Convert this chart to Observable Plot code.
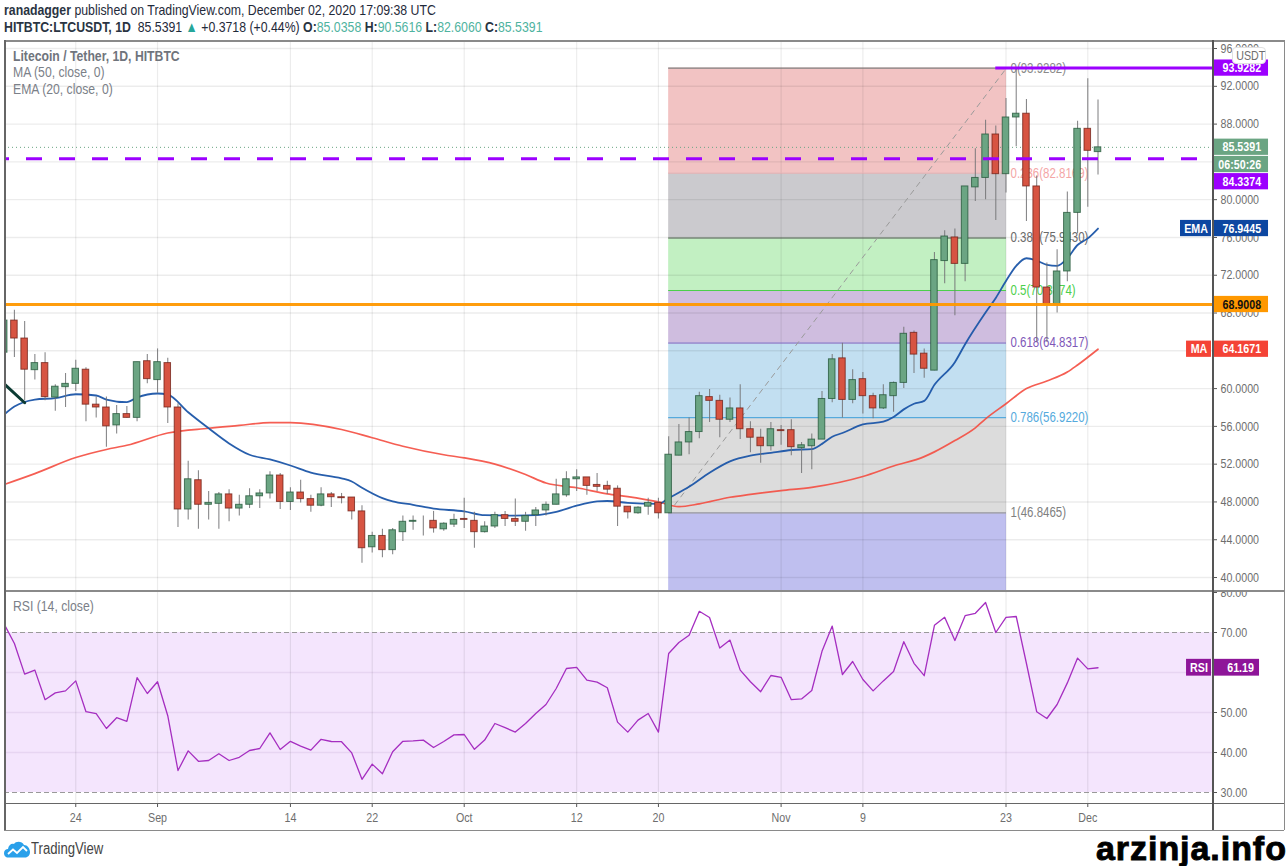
<!DOCTYPE html>
<html><head><meta charset="utf-8">
<script src="https://cdn.jsdelivr.net/npm/d3@7"></script>
<script src="https://cdn.jsdelivr.net/npm/@observablehq/plot@0.6"></script>
<style>
html,body{margin:0;padding:0;background:#fff;width:1288px;height:866px;overflow:hidden;font-family:"Liberation Sans",sans-serif;}
#stage{position:relative;width:1288px;height:866px;overflow:hidden}
#price,#rsi{position:absolute;left:0;}
#price{top:0}#rsi{top:591px}
.t{position:absolute;white-space:nowrap;color:#1f2a3a;font-size:15px;line-height:15px;transform:scaleX(.82);transform-origin:0 0}
.t b{font-weight:700;color:#2a3442}
.teal{color:#4fb3a0}
.leg{color:#7b8088;font-size:14.9px}
.line{position:absolute;background:#8a8a8a}
.pill{position:absolute;left:1232px;top:47px;width:32px;height:15px;background:#fff;border:1px solid #e0e0e0;border-radius:4px;color:#6e6e6e;font-size:13px;line-height:15px;text-align:center}
.pill span{display:inline-block;transform:scaleX(.82)}
.wm{position:absolute;left:1096px;top:832px;color:#000;font-size:34px;line-height:33px;font-weight:700;-webkit-text-stroke:.9px #000;letter-spacing:.95px;white-space:nowrap}
</style></head><body><div id="stage">
<div id="price"></div><div id="rsi"></div>
<div class="line" style="left:4px;top:40px;width:1280px;height:1.5px"></div>
<div class="line" style="left:4px;top:590px;width:1280px;height:2px"></div>
<div class="line" style="left:4px;top:802.5px;width:1280px;height:1.5px;background:#666"></div>
<div class="line" style="left:4px;top:829.5px;width:1280px;height:1.5px"></div>
<div class="line" style="left:4px;top:40px;width:1.5px;height:790px;background:#666"></div>
<div class="line" style="left:1283.5px;top:40px;width:1.5px;height:790px"></div>
<div class="line" style="left:1212px;top:40px;width:1.5px;height:790px;background:#555"></div>
<div class="t" style="left:4px;top:2px"><b>ranadagger</b> published on TradingView.com, December 02, 2020 17:09:38 UTC</div>
<div class="t" style="left:4px;top:19px"><b>HITBTC:LTCUSDT, 1D</b>&nbsp; 85.5391 <span style="color:#26a69a">▲</span> +0.3718 (+0.44%) <b>O:</b><span class="teal">85.0358</span> <b>H:</b><span class="teal">90.5616</span> <b>L:</b><span class="teal">82.6060</span> <b>C:</b><span class="teal">85.5391</span></div>
<div class="t leg" style="left:13px;top:49px"><b style="color:#6f747c">Litecoin / Tether, 1D, HITBTC</b></div>
<div class="t leg" style="left:13px;top:65px">MA (50, close, 0)</div>
<div class="t leg" style="left:13px;top:82px">EMA (20, close, 0)</div>
<div class="t leg" style="left:13px;top:599px">RSI (14, close)</div>
<div class="pill"><span>USDT</span></div>
<svg style="position:absolute;left:4px;top:841px" width="26" height="17" viewBox="0 0 26 17"><path d="M4 16.5C1 16.5 0 14 0 12 0 9.500 2 8 4 8 4.500 4 7.500 2 10 3 12 0 18 0 20 4 23.500 4 26 7.500 26 11 26 14 24 16.500 21 16.500Z" fill="#2aa0ea"/><path d="M4 13 9 8.500 13 12 19 6 23 10" fill="none" stroke="#fff" stroke-width="1.8"/></svg>
<div class="t" style="left:31px;top:841px;color:#444;font-size:16px;line-height:16px">TradingView</div>
<div class="wm">arzinja.info</div>
</div>
<script>
const startDay = Date.UTC(2020, 7, 17);
const day = i => new Date(startDay + i * 864e5);

const opens  = [63.8,67.2,65.3,61.95,62.7,59.05,60.15,60.5,62,58.3,58,56.1,57.3,56.9,62.9,60.9,62.7,58,47.2,50.3,47.7,47.8,48.8,47.3,47.7,48.6,48.9,50.8,48,49,48.3,47.6,48.8,48.5,48.47,47,43.2,44.4,42.9,44.8,45.9,46,46,45.1,45.6,46.2,46,44.8,45.4,46.6,46.2,45.9,46.6,47.1,47.7,48.7,50.4,50.6,49.8,49.7,49.4,47.5,46.8,47.5,47.9,46.8,52.9,54.3,55.4,59.1,58.7,56.7,57.9,55.7,54.8,53.9,55.6,55.6,53.7,53.9,54.6,58.9,63.2,58.8,61,59.2,57.9,59.2,60.6,65.9,63.7,61.9,73.5,76,73.2,81.3,82.3,86.9,82.7,88.7,89.1,81.4,70.7,68.9,72.4,78.6,87.5,85.0358];
const highs  = [68,68.3,67.1,63.6,63.8,60.4,61.6,63,62.2,59.1,59.1,58.2,58.1,62.8,63.6,64.2,63.2,58.4,52.3,51.3,49.1,49,49.3,48.7,49.4,49.3,51.2,51,49.5,50.3,48.7,49.5,49,48.9,48.47,47.6,44.8,45.1,45.2,46.5,46.5,46.5,47,45.8,46.7,48.4,46.9,45.9,46.9,47,48.3,46.9,47.4,48,50.4,51.2,51.4,50.6,51,50.2,49.7,47.5,47.5,48.4,48.4,54.9,56.2,56.9,59.6,59.9,59.3,59,60.4,56.5,55.7,56.4,56.1,56.7,54.3,55.2,59.7,63.6,64.8,62,61.7,59.5,60.4,60.7,66.5,66.1,64.2,74.4,76.7,76.9,81.4,85.4,88.4,87.8,90.7,93.9,90.6,82.5,73.3,74.7,80.8,88.3,92.8,90.5616];
const lows   = [61.2,63.3,58.7,60.9,58.7,57.6,58,59.7,56.5,56.9,53.8,55.2,56.9,56.5,60.5,59.5,56.3,45.3,46.1,45.1,46.1,45.1,45.9,46.5,47.3,47.3,48.3,47.2,47.1,47.9,46.9,47.5,47.4,47.8,46.1,41.5,42.6,42.1,42.4,43.8,45,44.4,44.7,44.9,45.3,45.2,43.1,44.7,45.2,45.4,45.4,44.9,45.4,46.5,47.7,48.5,49.1,48.7,49.1,48.8,45.4,46.2,46.7,46.6,46.2,46.8,52.9,53,54.7,56.4,54.8,56.4,54.6,53.2,52.1,53.4,54,52.9,51,51.4,54.6,58.5,56.9,58.4,57.3,56.8,57.8,57.5,60,61.6,61.1,61.9,71.1,67.7,71.3,79.8,80,77.8,80.7,85.6,77.7,64.9,64.9,68,71.3,76.4,79.2,82.606];
const closes = [67.2,65.3,62,62.7,59.1,60.2,60.5,62.1,58.3,58,56,57.3,56.9,62.8,61,62.8,58,47.2,50.4,47.7,47.9,48.8,47.3,47.7,48.6,48.9,50.8,48,49,48.3,47.6,48.8,48.5,48.4,47,43.1,44.4,42.9,45,45.9,46,46,45.2,45.7,46.1,46.1,44.8,45.4,46.6,46.2,45.9,46.5,47.1,47.7,48.8,50.4,50.6,49.7,49.6,49.3,47.5,46.9,47.4,47.9,46.8,53,54.3,55.4,59.2,58.7,56.7,57.9,55.7,54.8,53.9,55.7,55.5,53.8,54,54.6,58.9,63.1,58.8,60.9,59.2,57.9,59.3,60.6,65.8,63.6,62.1,73.6,76.1,73.2,81.4,82.3,86.9,82.7,88.7,89.1,81.4,70.7,68.9,72.4,78.6,87.5,85.17,85.5391];

const emaDays = [0,1,3,5,7,9,10,12,13,15,16,18,20,22,24,26,28,30,33,34,35,37,38,40,42,45,47,50,52,54,56,58,59,61,64,65,67,69,71,73,75,77,79,80,81,82,84,86,87,88,89,90,91,93,94,96,97,98,99,100,101,102,103,104,105,106,107];
const emaVals = [57.26,58.1,58.84,59,59.4,59.27,58.84,58.56,59.06,59.48,59.37,57.5,55.8,54.2,53,52.5,51.86,51.1,50.5,50.16,49.5,48.4,48.05,47.7,47.3,47,46.6,46.56,46.6,46.95,47.6,48.05,48.1,47.9,47.8,48.4,49.6,51.1,52.3,52.9,53.2,53.5,53.6,54.15,54.9,55.3,56.2,56.5,57,57.8,58.4,58.7,60.4,62.8,64.7,68.05,69.6,71.4,73,73.8,73.55,73.1,73,73.8,75.2,75.9,76.9445];
const maDays = [0,3,7,10,12,16,20,23,26,28,33,36,39,43,45,48,51,53,56,59,61,64,66,68,71,73,76,79,84,87,90,91,93,95,96,98,100,102,104,105,107];
const maVals = [49.85,51,52.7,53.55,54,55.3,55.8,56.1,56.4,56.4,55.67,54.8,53.9,53,52.67,52,50.9,50,49.5,48.86,48.57,48,47.5,47.8,48.5,48.8,49.2,49.55,50.7,51.8,52.8,53.3,54.5,55.85,56.8,58.4,60,60.8,61.75,62.5,64.1671];

const rsiVals = [72.1,67.25,59.6,60.6,53.2,54.9,55.4,57.9,50.2,49.7,46,48.7,47.8,58.7,54.75,57.7,49.2,35.5,40.4,37.8,38,39.7,38,38.8,40.5,41,44.9,40.75,42.8,41.6,40.6,43.3,42.75,42.7,39.9,33.3,37.1,34.7,40.2,42.8,42.9,43.1,41.25,42.75,44.4,44.5,40.8,43.1,47.25,46.2,45.1,47.25,49.75,52,56,61,61.3,58.1,57.6,56.2,47.6,45.1,48.1,49.75,45.1,64.75,67.5,69.3,75.3,73.75,66.1,68.1,60.6,57.7,55.2,59.25,58.8,53.2,53.4,55.5,65.3,71.6,59.5,62.75,58.25,55.4,57.9,60.25,67.7,62.3,59.2,71.8,73.8,68,74.2,74.8,77.5,70,73.8,74,62.25,50.2,48.5,52,57.4,63.6,60.9,61.19];

const priceTicks = [40,44,48,52,56,60,64,68,72,76,80,84,88,92,96];
const priceHiddenLabels = [64,84];
const rsiTicks = [30,40,50,60,70,80];
const rsiHiddenLabels = [60];
const timeTickDays = [7,15,28,36,45,56,64,76,84,98,106];
const timeTickLabels = ["24","Sep","14","22","Oct","12","20","Nov","9","23","Dec"];

const fibRatios = ["0","0.236","0.382","0.5","0.618","0.786","1"];
const fibLevels = [93.9282,82.8169,75.9430,70.3874,64.8317,56.9220,46.8465];
const fibLabelLevels = ["93.9282","82.8169","75.9430","70.3874","64.8317","56.9220","46.8465"];
const fibFills = ["#f2c3c3","#cbcace","#c2f0c2","#cfbddf","#c2dff1","#dcdcdc","#bfbfef"];
const fibLines = ["#808080","#f4a6a6","#555555","#4ccf4c","#7e57b8","#55aadd","#999999"];
const fibTexts = ["#8a8a8a","#f4a6a6","#6a6a6a","#4ccf4c","#7e57b8","#55aadd","#808080"];
const fibStart = 65, fibEnd = 98.05;

const tagCenters = [93.9282,85.55,83.72,81.9,76.9445,68.9008,64.1671];
const tagTexts = ["93.9282","85.5391","06:50:26","84.3374","76.9445","68.9008","64.1671"];
const tagFills = ["#9c00ff","#6ba583","#6ba583","#9c00ff","#0d47a1","#ff9800","#f44336"];
const tagInks = ["#fff","#fff","#fff","#fff","#fff","#111","#fff"];
const sideCenters = [76.9445,64.1671];
const sideTexts = ["EMA","MA"];
const sideFills = ["#0d47a1","#f44336"];
const sideStarts = [115.07,115.66];

const FONT = "'Liberation Sans',sans-serif";
const X0 = 0.03, X1 = 118.2, TAGL = 118.3, TAGR = 123.68, TAGTEXT = 122.95;
const candles = closes.map((c,i)=>({d:day(i),o:opens[i],h:highs[i],l:lows[i],c,up:c>=opens[i],x1:day(i-0.32),x2:day(i+0.32)}));
const ema = emaDays.map((d,i)=>({d:day(d),v:emaVals[i]}));
const ma = maDays.map((d,i)=>({d:day(d),v:maVals[i]}));
const rsi = rsiVals.map((v,i)=>({d:day(i),v}));
const fibBands = fibLevels.map((top,i)=>({top,bot:i<6?fibLevels[i+1]:38.52,fill:fibFills[i]}));
const xTicks = timeTickDays.map(day);
const grid = "#00000013";

const priceChart = Plot.plot({
  width:1288,height:591,marginTop:40,marginBottom:0,marginLeft:4,marginRight:76,
  style:{fontFamily:FONT,fontSize:"13px",background:"transparent",color:"#6e6e6e"},
  x:{type:"utc",domain:[day(X0),day(X1)],axis:null},
  y:{domain:[38.52,96.85],axis:null},
  marks:[
    Plot.rect(fibBands,{x1:day(fibStart),x2:day(fibEnd),y1:"bot",y2:"top",fill:"fill"}),
    Plot.ruleY(priceTicks,{stroke:grid,strokeWidth:1.4}),
    Plot.ruleX(xTicks,{stroke:grid,strokeWidth:1.2}),
    Plot.ruleY(fibLevels,{x1:day(fibStart),x2:day(fibEnd),stroke:(d,i)=>fibLines[i],strokeWidth:1.1}),
    Plot.text(fibLevels,{x:day(fibEnd),y:d=>d,dx:4,textAnchor:"start",fontSize:14,fill:(d,i)=>fibTexts[i],
      text:(d,i)=>`${fibRatios[i]}(${fibLabelLevels[i]})`}),
    Plot.line([{d:day(fibStart),v:fibLevels[6]},{d:day(fibEnd),v:fibLevels[0]}],{x:"d",y:"v",stroke:"#9a9a9a",strokeWidth:1,strokeDasharray:"5 5"}),
    Plot.ruleY([85.5391],{stroke:"#6ba583",strokeWidth:1,strokeDasharray:"1 3"}),
    Plot.line(ma,{x:"d",y:"v",stroke:"#f44d40",strokeWidth:1.7,strokeOpacity:.9,curve:"monotone-x",clip:true}),
    Plot.line(ema,{x:"d",y:"v",stroke:"#1b55a8",strokeWidth:1.8,strokeOpacity:.95,curve:"monotone-x",clip:true}),
    Plot.ruleX(candles,{x:"d",y1:"l",y2:"h",stroke:"#737375",strokeWidth:1.1,strokeOpacity:.85,clip:true}),
    Plot.rect(candles,{x1:"x1",x2:"x2",y1:"o",y2:"c",fill:d=>d.up?"#6ba583":"#d75442",stroke:d=>d.up?"#225437":"#6f1e14",strokeWidth:1,strokeOpacity:.75,clip:true}),
    Plot.line([{d:day(0),v:60.5},{d:day(2),v:58.5}],{x:"d",y:"v",stroke:"#0c3b33",strokeWidth:3,clip:true}),
    Plot.ruleY([68.9008],{stroke:"#ff9800",strokeWidth:3,strokeOpacity:.95}),
    Plot.ruleY([84.3374],{stroke:"#9c00ff",strokeWidth:3,strokeDasharray:"16 17",strokeDashoffset:11}),
    Plot.ruleY([93.9282],{x1:day(97),x2:day(X1),stroke:"#9c00ff",strokeWidth:3}),
    Plot.axisY(priceTicks,{anchor:"right",tickFormat:d=>priceHiddenLabels.includes(d)?"":d.toFixed(4),tickSize:4,tickPadding:4,label:null,fontSize:13,stroke:"#555",fill:"#6e6e6e"}),
    Plot.rect(tagCenters,{x1:day(TAGL),x2:day(TAGR),y1:d=>d-0.86,y2:d=>d+0.86,fill:(d,i)=>tagFills[i],clip:false}),
    Plot.rect(sideCenters,{x1:(d,i)=>day(sideStarts[i]),x2:day(118.1),y1:d=>d-0.86,y2:d=>d+0.86,fill:(d,i)=>sideFills[i],clip:false}),
    Plot.text(tagCenters,{x:day(TAGTEXT),y:d=>d,textAnchor:"end",text:(d,i)=>tagTexts[i],fill:(d,i)=>tagInks[i],fontSize:13,fontWeight:700,clip:false}),
    Plot.text(sideCenters,{x:(d,i)=>day((sideStarts[i]+118.1)/2),y:d=>d,text:(d,i)=>sideTexts[i],fill:"#fff",fontSize:13,fontWeight:700,clip:false})
  ]
});
document.getElementById("price").append(priceChart);

const rsiChart = Plot.plot({
  width:1288,height:239,marginTop:0,marginBottom:27,marginLeft:4,marginRight:76,
  style:{fontFamily:FONT,fontSize:"13px",background:"transparent",color:"#6e6e6e"},
  x:{type:"utc",domain:[day(X0),day(X1)],axis:null},
  y:{domain:[27.25,80.25],axis:null},
  marks:[
    Plot.rectY([{a:30,b:70}],{x1:day(X0),x2:day(118.4),y1:"a",y2:"b",fill:"#f4e5fd"}),
    Plot.ruleY([40,50,60],{stroke:"#e7d5f2",strokeWidth:1.4}),
    Plot.ruleX(xTicks,{stroke:"#00000014",strokeWidth:1.2}),
    Plot.ruleY([30,70],{stroke:"#9a9a9a",strokeWidth:1,strokeDasharray:"5 3"}),
    Plot.line(rsi,{x:"d",y:"v",stroke:"#a52ec0",strokeWidth:1.3,clip:true}),
    Plot.axisY(rsiTicks,{anchor:"right",tickFormat:d=>rsiHiddenLabels.includes(d)?"":d.toFixed(2),tickSize:4,tickPadding:4,label:null,fontSize:13,stroke:"#555",fill:"#6e6e6e"}),
    Plot.axisX(xTicks,{anchor:"bottom",tickFormat:(d,i)=>timeTickLabels[timeTickDays.indexOf(Math.round((+d-startDay)/864e5))],tickSize:4,tickPadding:5,label:null,fontSize:13,stroke:"#555",fill:"#6e6e6e"}),
    Plot.rect([61.19],{x1:day(115.66),x2:day(118.1),y1:d=>d-2.1,y2:d=>d+2.1,fill:"#8e1599",clip:false}),
    Plot.rect([61.19],{x1:day(TAGL),x2:day(122.8),y1:d=>d-2.1,y2:d=>d+2.1,fill:"#8e1599",clip:false}),
    Plot.text([61.19],{x:day(122.25),y:d=>d,textAnchor:"end",text:d=>d.toFixed(2),fill:"#fff",fontSize:13,fontWeight:700,clip:false}),
    Plot.text(["RSI"],{x:day(116.88),y:()=>61.19,text:d=>d,fill:"#fff",fontSize:13,fontWeight:700,clip:false})
  ]
});
document.getElementById("rsi").append(rsiChart);

// The reference's lettering is horizontally condensed: narrow every chart text to match.
document.querySelectorAll("#price svg text, #rsi svg text").forEach(el => {
  const len = el.getComputedTextLength();
  if (len > 0) { el.setAttribute("textLength", (len * 0.82).toFixed(1)); el.setAttribute("lengthAdjust", "spacingAndGlyphs"); }
});
</script></body></html>
